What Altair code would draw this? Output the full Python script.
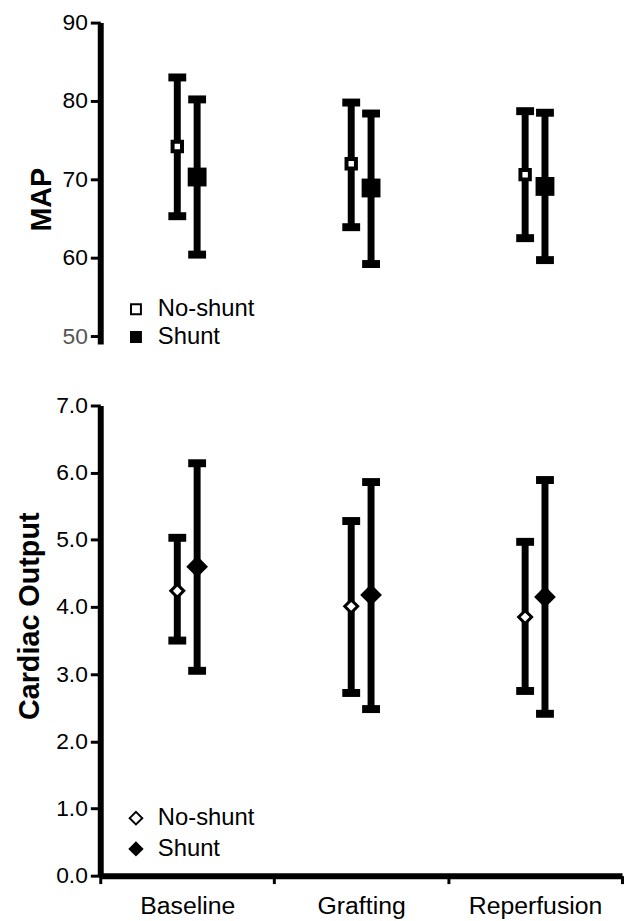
import altair as alt
import pandas as pd

phases = ["Baseline", "Grafting", "Reperfusion"]
groups = ["No-shunt", "Shunt"]

map_mean_noshunt = [74.2, 72.0, 70.6]
map_lo_noshunt = [65.3, 63.9, 62.5]
map_hi_noshunt = [83.0, 79.8, 78.7]
map_mean_shunt = [70.3, 68.9, 69.1]
map_lo_shunt = [60.4, 59.2, 59.7]
map_hi_shunt = [80.2, 78.4, 78.5]

co_mean_noshunt = [4.24, 4.01, 3.85]
co_lo_noshunt = [3.50, 2.72, 2.75]
co_hi_noshunt = [5.03, 5.28, 4.97]
co_mean_shunt = [4.60, 4.18, 4.15]
co_lo_shunt = [3.05, 2.48, 2.41]
co_hi_shunt = [6.14, 5.86, 5.89]

map_ticks = [50, 60, 70, 80, 90]
co_ticks = [0, 1, 2, 3, 4, 5, 6, 7]

FONT = "Liberation Sans"


def table(means, los, his):
    rows = []
    for g, m, lo, hi in zip(groups, means, los, his):
        for p, a, b, c in zip(phases, m, lo, hi):
            rows.append({"phase": p, "group": g, "mean": a, "lo": b, "hi": c})
    return pd.DataFrame(rows)


map_df = table([map_mean_noshunt, map_mean_shunt],
               [map_lo_noshunt, map_lo_shunt],
               [map_hi_noshunt, map_hi_shunt])
co_df = table([co_mean_noshunt, co_mean_shunt],
              [co_lo_noshunt, co_lo_shunt],
              [co_hi_noshunt, co_hi_shunt])

offsets = {"No-shunt": -10, "Shunt": 10}


def panel(df, domain, ticks, title, shape, sizes, strokes, show_x, ytitle_x,
          ytitle_y, legend_xy, legend_sym, legend_row, fmt, height):
    x_axis = alt.Axis(
        title=None, labelAngle=0, tickBand="extent", domainWidth=6,
        domainColor="black", tickColor="black", tickWidth=3, tickSize=8,
        labelFontSize=25, labelPadding=10, labelColor="black", labelFont=FONT,
    ) if show_x else None
    x = alt.X("phase:N", sort=phases,
              scale=alt.Scale(domain=phases, paddingInner=0, paddingOuter=0),
              axis=x_axis)
    y_axis = alt.Axis(
        title=title, values=ticks, format=fmt, grid=False,
        domainWidth=6, domainColor="black", tickColor="black", tickWidth=3,
        tickSize=10, labelFontSize=23, labelFont=FONT, labelPadding=3,
        labelColor={"condition": {"test": "datum.value == 50", "value": "#555555"},
                    "value": "black"},
        titleFont=FONT, titleFontSize=29, titleFontWeight="bold",
        titleColor="black", titleX=ytitle_x, titleY=ytitle_y,
        titleBaseline="alphabetic", titleAlign="center", titleAngle=270,
    )
    yscale = alt.Scale(domain=domain, nice=False, zero=False)
    layers = []
    for g in groups:
        off = offsets[g]
        base = alt.Chart(df).transform_filter(alt.datum.group == g)
        layers.append(base.mark_rule(strokeWidth=7, color="black", xOffset=off).encode(
            x=x, y=alt.Y("lo:Q", scale=yscale, axis=y_axis), y2="hi:Q"))
        layers.append(base.mark_tick(orient="horizontal", size=18, thickness=8,
                                     color="black", opacity=1, xOffset=off).encode(
            x=x, y=alt.Y("hi:Q", scale=yscale)))
        layers.append(base.mark_tick(orient="horizontal", size=18, thickness=8,
                                     color="black", opacity=1, xOffset=off).encode(
            x=x, y=alt.Y("lo:Q", scale=yscale)))
    for g in groups:
        off = offsets[g]
        base = alt.Chart(df).transform_filter(alt.datum.group == g)
        layers.append(base.mark_point(shape=shape, filled=True, size=sizes[g],
                                      stroke="black", strokeWidth=strokes[g],
                                      opacity=1, xOffset=off).encode(
            x=x, y=alt.Y("mean:Q", scale=yscale),
            fill=alt.Fill("group:N", scale=alt.Scale(domain=groups, range=["white", "black"]),
                          legend=alt.Legend(
                              title=None, orient="none", legendX=legend_xy[0],
                              legendY=legend_xy[1], symbolType=shape,
                              symbolSize=legend_sym, symbolStrokeColor="black",
                              symbolStrokeWidth=2, labelFontSize=24, labelFont=FONT,
                              labelColor="black", labelOffset=10, rowPadding=legend_row,
                              padding=0))))
    return alt.layer(*layers).properties(width=526, height=height)


top = panel(map_df, [49, 90], map_ticks, "MAP", "square",
            {"No-shunt": 90, "Shunt": 361}, {"No-shunt": 4, "Shunt": 0},
            False, -50, 178, (24, 277), 100, 4, "d", 324)
bottom = panel(co_df, [0, 7], co_ticks, "Cardiac Output", "diamond",
               {"No-shunt": 170, "Shunt": 480}, {"No-shunt": 3, "Shunt": 0},
               True, -62, 212, (24, 404), 160, 7, ".1f", 474)

chart = alt.vconcat(top, bottom, spacing=62, bounds="flush").resolve_scale(
    x="independent", y="independent", fill="independent"
).resolve_legend(fill="independent").properties(
    padding={"left": 8, "top": 0, "right": 0, "bottom": 0}
).configure(font=FONT).configure_view(stroke=None)

chart.save("out.html", embed_options={"renderer": "svg", "actions": False})
